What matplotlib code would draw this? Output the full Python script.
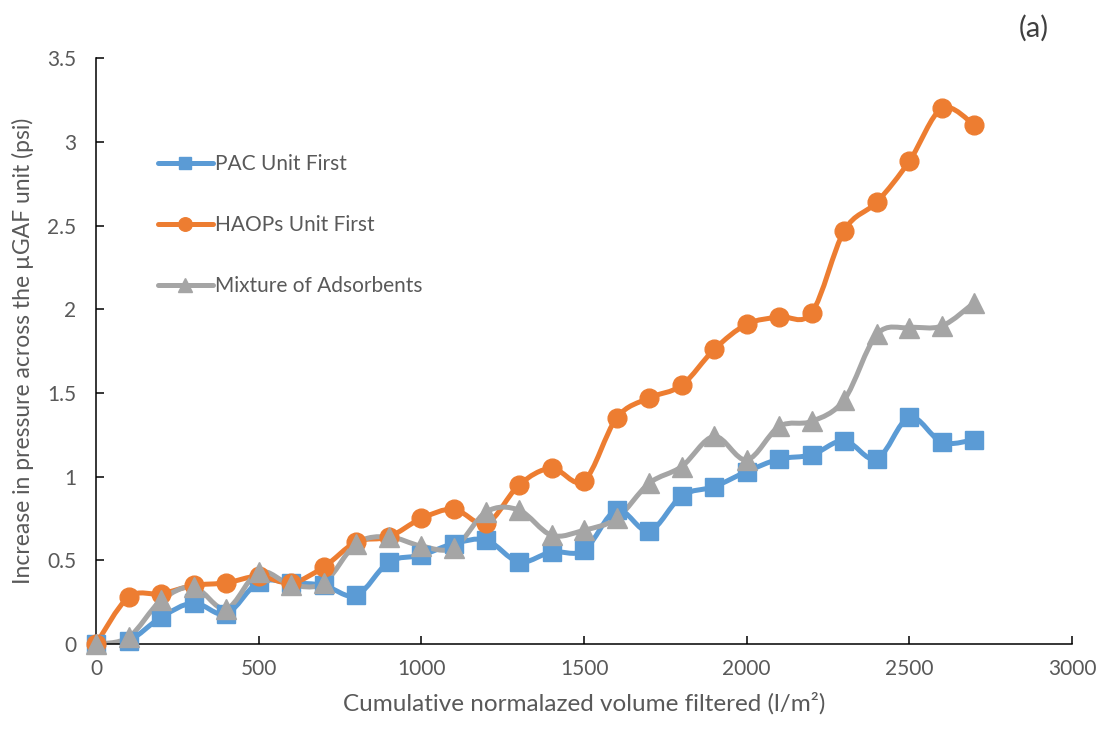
import numpy as np
import matplotlib
matplotlib.use('Agg')
import matplotlib.pyplot as plt
from matplotlib.path import Path
from matplotlib.patches import PathPatch
from matplotlib.lines import Line2D

plt.rcParams['font.family'] = ['Lato', 'DejaVu Sans']

volume = [0, 100, 200, 300, 400, 500, 600, 700, 800, 900, 1000, 1100, 1200, 1300,
          1400, 1500, 1600, 1700, 1800, 1900, 2000, 2100, 2200, 2300, 2400, 2500, 2600, 2700]

pac_first = [0, 0.02, 0.16, 0.245, 0.18, 0.37, 0.365, 0.35, 0.29, 0.49, 0.53, 0.60, 0.62, 0.49,
             0.55, 0.56, 0.80, 0.675, 0.885, 0.94, 1.03, 1.105, 1.13, 1.215, 1.105, 1.355, 1.205, 1.22]

haops_first = [0, 0.28, 0.30, 0.35, 0.365, 0.405, 0.365, 0.46, 0.61, 0.64, 0.75, 0.805, 0.72, 0.95,
               1.05, 0.975, 1.35, 1.47, 1.545, 1.76, 1.91, 1.955, 1.98, 2.47, 2.64, 2.885, 3.2, 3.1]

mixture = [0, 0.04, 0.26, 0.34, 0.21, 0.43, 0.355, 0.365, 0.60, 0.64, 0.585, 0.575, 0.79, 0.80,
           0.65, 0.68, 0.75, 0.96, 1.06, 1.24, 1.10, 1.30, 1.33, 1.46, 1.85, 1.89, 1.90, 2.04]

labels = ['PAC Unit First', 'HAOPs Unit First', 'Mixture of Adsorbents']
colors = ['#5B9BD5', '#ED7D31', '#A5A5A5']
markers = ['s', 'o', '^']
msizes = [12.5, 13.5, 14]
text_col = '#595959'


def smooth_path(x, y):
    # excel style smoothed line: bezier through the points
    pts = np.column_stack([x, y]).astype(float)
    verts = [pts[0]]
    codes = [Path.MOVETO]
    n = len(pts)
    for i in range(n - 1):
        p0 = pts[max(i - 1, 0)]
        p1 = pts[i]
        p2 = pts[i + 1]
        p3 = pts[min(i + 2, n - 1)]
        c1 = p1 + (p2 - p0) / 6.0
        c2 = p2 - (p3 - p1) / 6.0
        verts += [c1, c2, p2]
        codes += [Path.CURVE4] * 3
    return Path(verts, codes)


fig = plt.figure(figsize=(11, 7.36), dpi=100)
ax = fig.add_axes([0.0873, 0.125, 0.8873, 0.796])

series = [pac_first, haops_first, mixture]
handles = []
for ys, c, m, ms, lab in zip(series, colors, markers, msizes, labels):
    ax.add_patch(PathPatch(smooth_path(volume, ys), facecolor='none', edgecolor=c,
                           lw=3.6, capstyle='round', joinstyle='round'))
    ax.plot(volume, ys, linestyle='none', marker=m, color=c, markersize=ms,
            clip_on=False, zorder=3)
    handles.append(Line2D([], [], color=c, lw=3.6, marker=m, markersize=ms * 0.72,
                          solid_capstyle='round'))

ax.set_xlim(0, 3000)
ax.set_ylim(0, 3.5)
ax.set_xticks(np.arange(0, 3001, 500))
ax.set_yticks(np.arange(0, 3.51, 0.5))
ax.set_yticklabels(['0', '0.5', '1', '1.5', '2', '2.5', '3', '3.5'])

for s in ['top', 'right']:
    ax.spines[s].set_visible(False)
for s in ['left', 'bottom']:
    ax.spines[s].set_color('black')
    ax.spines[s].set_linewidth(1.1)
ax.tick_params(direction='in', length=5.5, width=1.1, colors='black',
               labelcolor=text_col, labelsize=15)
ax.tick_params(axis='x', pad=11)
ax.tick_params(axis='y', pad=14)

ax.set_xlabel('Cumulative normalazed volume filtered (l/m²)', fontsize=17.5, color=text_col, labelpad=9)
ax.set_ylabel('Increase in pressure across the µGAF unit (psi)', fontsize=16.5, color=text_col, labelpad=10)

ax.legend(handles, labels, loc='upper left', bbox_to_anchor=(0.044, 0.868), frameon=False,
          fontsize=15, labelcolor=text_col, handlelength=2.65, handletextpad=0.1,
          labelspacing=1.97)

fig.text(0.94, 0.962, '(a)', fontsize=21, color='#404040', ha='center', va='center')

fig.savefig('out.png', dpi=100)
